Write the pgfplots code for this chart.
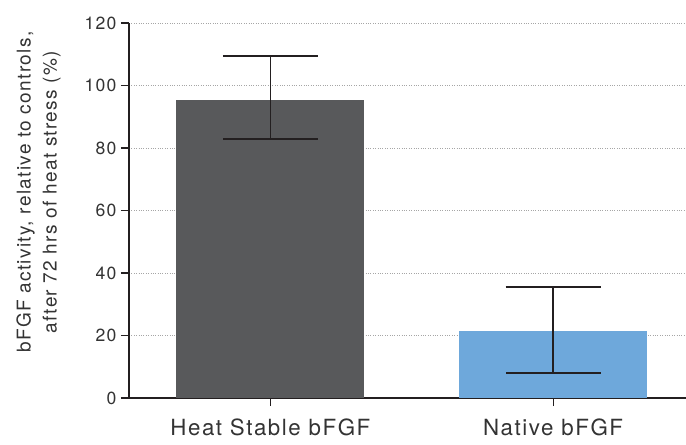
\documentclass[border=0pt]{standalone}
\usepackage{pgfplots}
\pgfplotsset{compat=1.18}
\usepackage{fontspec}
\setmainfont{TeX Gyre Heros}[LetterSpace=7]
\definecolor{bardark}{HTML}{58595B}
\definecolor{barblue}{HTML}{6EA8DB}
\definecolor{axcol}{HTML}{231F20}
\definecolor{txtcol}{HTML}{333333}
\begin{document}
\begin{tikzpicture}
\useasboundingbox (-129bp,-47bp) rectangle (557bp,398bp);
\begin{axis}[
 scale only axis, width=557bp, height=375bp,
 at={(0,0)}, anchor=south west,
 xmin=-0.5, xmax=1.47, ymin=0, ymax=120,
 ytick={0,20,...,120},
 xtick={0,1}, xticklabels={Heat Stable bFGF, Native bFGF},
 axis x line*=bottom, axis y line*=left,
 axis line style={axcol, line width=1.2bp, -},
 tick style={axcol, line width=1.2bp},
 tick align=outside, major tick length=8bp,
 ymajorgrids, grid style={black!35, dotted, line width=0.8bp},
 /pgf/number format/assume math mode=true,
 yticklabel style={font=\fontsize{17.6bp}{20bp}\selectfont, text=txtcol, xshift=-1bp},
 xticklabel style={font=\fontsize{22.3bp}{24bp}\selectfont, text=txtcol, yshift=-9bp},
 ylabel={bFGF activity, relative to controls,\\after 72 hrs of heat stress (\%)},
 ylabel style={align=center, font=\fontsize{19bp}{26bp}\selectfont, text=txtcol,
   at={(axis description cs:-0.1625,0.549)}, anchor=center},
]
\addplot[ybar, bar width=188bp, bar shift=0pt, fill=bardark, draw=none,
  error bars/.cd, y dir=both, y explicit,
  error bar style={axcol, line width=1.6bp},
  error mark options={axcol, line width=1.6bp, mark size=47.5bp, rotate=90}]
  coordinates {(0,95.4) += (0,14.0) -= (0,12.5)};
\addplot[ybar, bar width=188bp, bar shift=0pt, fill=barblue, draw=none,
  error bars/.cd, y dir=both, y explicit,
  error bar style={axcol, line width=1.6bp},
  error mark options={axcol, line width=1.6bp, mark size=47.5bp, rotate=90}]
  coordinates {(1,21.4) += (0,14.1) -= (0,13.4)};
\end{axis}
\end{tikzpicture}
\end{document}
